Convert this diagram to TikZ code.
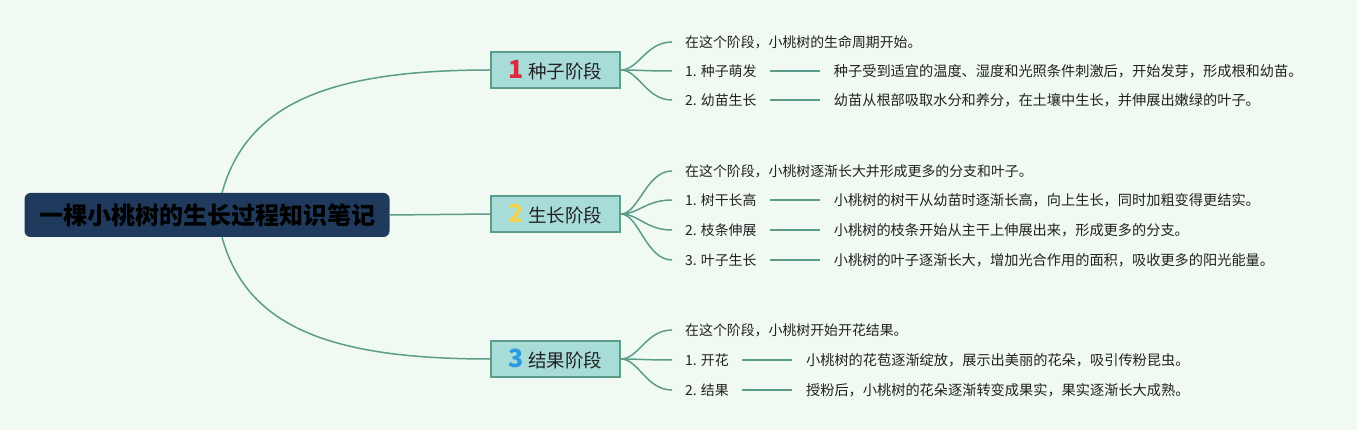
\documentclass[tikz,border=0pt]{standalone}
\usepackage{fontspec}
\setmainfont{Noto Sans CJK SC}
\usetikzlibrary{positioning}
\definecolor{bgmint}{HTML}{F0FAF2}
\definecolor{rootnavy}{HTML}{1F3A5C}
\definecolor{stagefill}{HTML}{A8DCD9}
\definecolor{branch}{HTML}{5C9C8A}
\definecolor{leaftext}{HTML}{222222}
\definecolor{numred}{HTML}{E0283C}
\definecolor{numyellow}{HTML}{F4D44C}
\definecolor{numblue}{HTML}{2A9BE0}
\newcommand{\stagenum}[2]{\textcolor{#1}{\fontsize{25}{25}\selectfont\bfseries #2}\hspace{4pt}}
\tikzset{
  rootbox/.style={fill=rootnavy, rounded corners=6pt, minimum width=365pt, minimum height=44pt,
    font=\fontsize{24}{27}\selectfont\bfseries, text=black},
  stagebox/.style={draw=branch, line width=1.5pt, fill=stagefill, minimum width=129pt,
    minimum height=36pt, font=\fontsize{18.5}{21}\selectfont, text=leaftext},
  leaf/.style={anchor=west, inner xsep=13pt, inner ysep=2pt, font=\fontsize{13.9}{16}\selectfont, text=leaftext},
  detail/.style={leaf, inner xsep=14pt, font=\fontsize{14.2}{16}\selectfont},
  link/.style={draw=branch, line width=1.5pt}
}
\begin{document}
\begin{tikzpicture}[x=1pt,y=-1pt]
  \useasboundingbox[fill=bgmint] (0,0) rectangle (1357,430);
  % root and stages
  \node[rootbox] (root) at (207,215) {一棵小桃树的生长过程知识笔记};
  \node[stagebox] (seed) at (555.5,70) {\stagenum{numred}{1}种子阶段};
  \node[stagebox] (grow) at (555.5,214) {\stagenum{numyellow}{2}生长阶段};
  \node[stagebox] (fruit) at (555.5,359) {\stagenum{numblue}{3}结果阶段};
  \draw[link] ([xshift=15pt]root.north) .. controls +(25,-90) and +(-160,0) .. (seed.west);
  \draw[link] (root.east) -- (grow.west);
  \draw[link] ([xshift=15pt]root.south) .. controls +(25,90) and +(-160,0) .. (fruit.west);
  % seed stage
  \node[leaf] (seed0) at (672,42) {在这个阶段，小桃树的生命周期开始。};
  \node[leaf] (seed1) at (672,71) {1. 种子萌发};
  \node[leaf] (seed2) at (672,100) {2. 幼苗生长};
  \node[detail, right=50pt of seed1] (seed1d) {种子受到适宜的温度、湿度和光照条件刺激后，开始发芽，形成根和幼苗。};
  \node[detail, right=50pt of seed2] (seed2d) {幼苗从根部吸取水分和养分，在土壤中生长，并伸展出嫩绿的叶子。};
  % growth stage
  \node[leaf] (grow0) at (672,171) {在这个阶段，小桃树逐渐长大并形成更多的分支和叶子。};
  \node[leaf] (grow1) at (672,200) {1. 树干长高};
  \node[leaf] (grow2) at (672,230) {2. 枝条伸展};
  \node[leaf] (grow3) at (672,260) {3. 叶子生长};
  \node[detail, right=50pt of grow1] (grow1d) {小桃树的树干从幼苗时逐渐长高，向上生长，同时加粗变得更结实。};
  \node[detail, right=50pt of grow2] (grow2d) {小桃树的枝条开始从主干上伸展出来，形成更多的分支。};
  \node[detail, right=50pt of grow3] (grow3d) {小桃树的叶子逐渐长大，增加光合作用的面积，吸收更多的阳光能量。};
  % fruit stage
  \node[leaf] (fruit0) at (672,330) {在这个阶段，小桃树开始开花结果。};
  \node[leaf] (fruit1) at (672,360) {1. 开花};
  \node[leaf] (fruit2) at (672,390) {2. 结果};
  \node[detail, right=50pt of fruit1] (fruit1d) {小桃树的花苞逐渐绽放，展示出美丽的花朵，吸引传粉昆虫。};
  \node[detail, right=50pt of fruit2] (fruit2d) {授粉后，小桃树的花朵逐渐转变成果实，果实逐渐长大成熟。};
  % fans
  \foreach \s/\l in {seed/seed0,seed/seed1,seed/seed2,grow/grow0,grow/grow1,grow/grow2,grow/grow3,
      fruit/fruit0,fruit/fruit1,fruit/fruit2}
    \draw[link] (\s.east) .. controls +(18,0) and +(-26,0) .. (\l.west);
  \foreach \l in {seed1,seed2,grow1,grow2,grow3,fruit1,fruit2}
    \draw[link] (\l.east) -- (\l d.west);
\end{tikzpicture}
\end{document}
